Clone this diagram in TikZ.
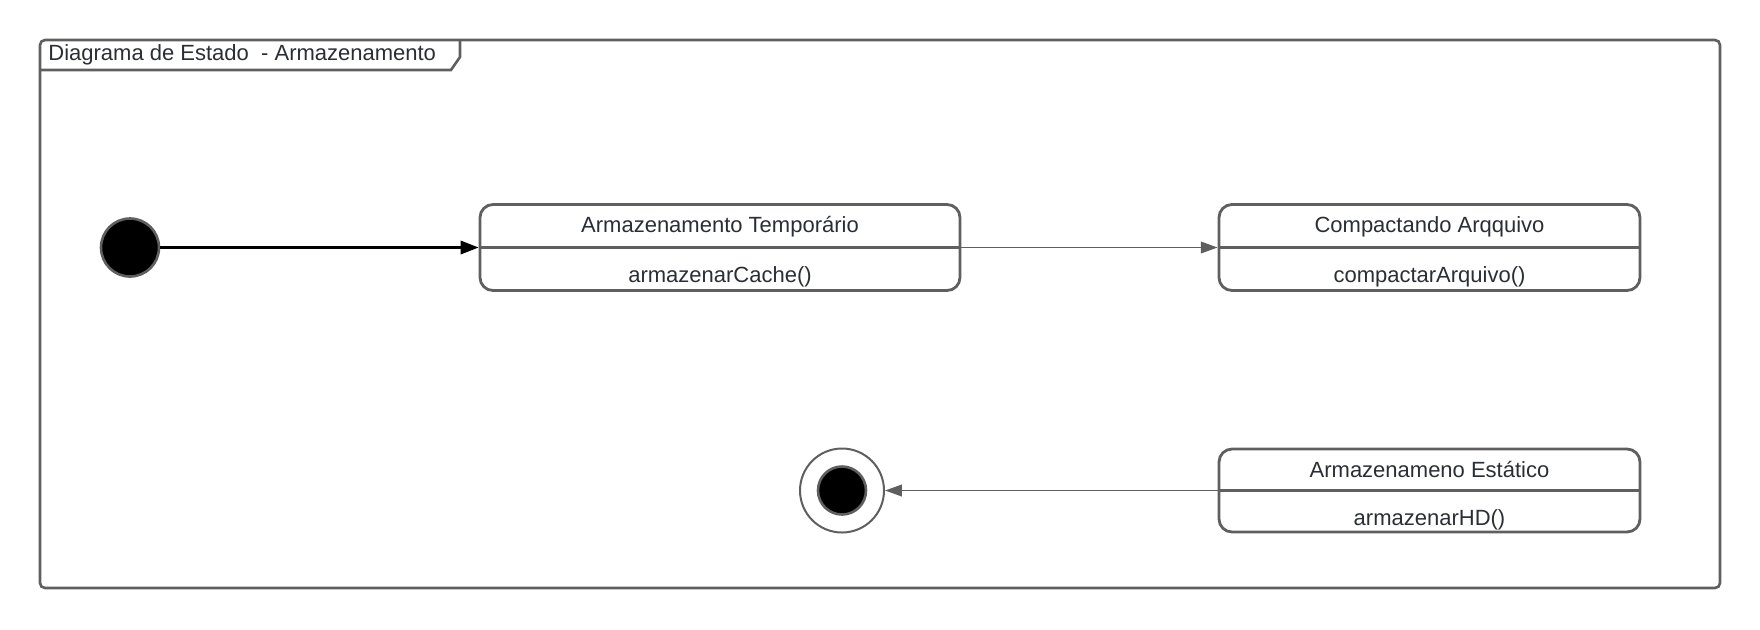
\documentclass[tikz,border=0pt]{standalone}
\usepackage{fontspec}
\setmainfont{Liberation Sans}
\usetikzlibrary{arrows.meta,positioning}

\definecolor{linha}{HTML}{5F5F5F}
\definecolor{texto}{HTML}{2A2E35}

\tikzset{
  moldura/.style={draw=linha, line width=1.3pt, rounded corners=2.5pt},
  estado/.style={draw=linha, line width=1.4pt, rounded corners=6.5pt, minimum height=43pt, inner sep=0pt},
  divisor/.style={draw=linha, line width=1.5pt},
  rotulo/.style={font=\fontsize{11}{13}\selectfont, text=texto, inner sep=0pt},
  inicio/.style={circle, fill=black, draw=linha, line width=1.3pt, minimum size=29pt, inner sep=0pt},
  fimext/.style={circle, fill=white, draw=linha, line width=1pt, minimum size=42pt, inner sep=0pt},
  fimint/.style={circle, fill=black, draw=linha, line width=1.3pt, minimum size=24pt, inner sep=0pt},
  inicial/.style={draw=black, line width=1.1pt, -{Triangle[length=9pt,width=6.7pt]}},
  trans/.style={draw=linha, line width=0.9pt, -{Triangle[length=8.4pt,width=5.8pt]}},
}

\begin{document}
\begin{tikzpicture}[x=1pt,y=1pt]
  \useasboundingbox (0,0) rectangle (880,-314.5);

  % moldura do diagrama
  \draw[moldura] (20,-20) rectangle (860,-294);
  \draw[moldura, sharp corners] (20,-35) -- (225.5,-35) -- (230,-28.5) -- (230,-20);
  \node[rotulo, anchor=west] (titulo) at (24,-27.3) {Diagrama de Estado\ \ - Armazenamento};

  % estados
  \node[inicio] (ini) at (65,-123.75) {};
  \node[estado, minimum width=240pt] (temp) at (360,-123.75) {};
  \node[estado, minimum width=210.5pt] (comp) at (714.75,-123.75) {};
  \node[estado, minimum width=210.5pt, minimum height=41.5pt] (hd) at (714.75,-245.25) {};
  \node[fimext] (fim) at (421,-245.25) {};
  \node[fimint] (fimi) at (fim) {};

  \foreach \s in {temp,comp,hd}
    \draw[divisor] (\s.west) -- (\s.east);

  \node[rotulo] (tempnome) at ([yshift=10.6pt]temp.center) {Armazenamento Temporário};
  \node[rotulo] (tempacao) at ([yshift=-14.6pt]temp.center) {armazenarCache()};
  \node[rotulo] (compnome) at ([yshift=10.6pt]comp.center) {Compactando Arqquivo};
  \node[rotulo] (compacao) at ([yshift=-14.6pt]comp.center) {compactarArquivo()};
  \node[rotulo] (hdnome) at ([yshift=10.6pt]hd.center) {Armazenameno Estático};
  \node[rotulo] (hdacao) at ([yshift=-14.6pt]hd.center) {armazenarHD()};

  % transicoes
  \draw[inicial] (ini) -- (temp.west);
  \draw[trans] (temp.east) -- (comp.west);
  \draw[trans] (hd.west) -- (fim);
\end{tikzpicture}
\end{document}
